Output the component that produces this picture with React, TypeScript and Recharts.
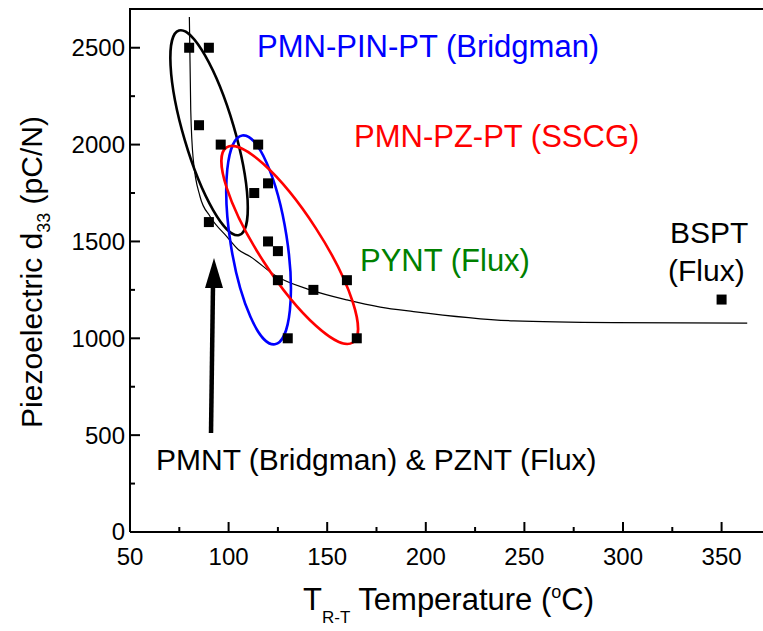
import React from 'react';
import { ComposedChart, Scatter, Line, XAxis, YAxis, ReferenceDot } from 'recharts';

const FONT = '"Liberation Sans", Arial, Helvetica, sans-serif';

// measured single crystals
const crystalT = [80, 90, 85, 96, 115, 120, 113, 90, 120, 125, 125, 160, 143, 130, 165, 350];
const crystalD33 = [2500, 2500, 2100, 2000, 2000, 1800, 1750, 1600, 1500, 1450, 1300, 1300, 1250, 1000, 1000, 1200];

// trend line
const fitT = [80.1, 80.8, 82.1, 85.5, 90.6, 99.1, 105, 110.9, 124.5, 141.4, 160, 176.9, 193.8, 244.6, 295.3, 363];
const fitD33 = [2659, 2180, 1921, 1732, 1629, 1525, 1457, 1422, 1319, 1250, 1198, 1161, 1138, 1090, 1081, 1078];

const xTicks = [50, 75, 100, 125, 150, 175, 200, 225, 250, 275, 300, 325, 350];
const xLabels = [50, 100, 150, 200, 250, 300, 350];
const yTicks = [0, 250, 500, 750, 1000, 1250, 1500, 1750, 2000, 2250, 2500];
const yLabels = [0, 500, 1000, 1500, 2000, 2500];

const points = crystalT.map((t, i) => ({ t, d33: crystalD33[i] }));
const fit = fitT.map((t, i) => ({ t, d33: fitD33[i] }));

// group outlines: centre in data units, semi-axes in px, tilt in degrees
const groups = [
  { t: 90.1, d33: 2061, a: 106.6, b: 25.4, tilt: 16.4, color: '#000000' },
  { t: 115.2, d33: 1508, a: 105.7, b: 28.2, tilt: 8.9, color: '#0000ff' },
  { t: 131, d33: 1482, a: 116.2, b: 31, tilt: 32.9, color: '#ff0000' },
];

const XTick = (props: any) => {
  const { x, y, payload } = props;
  const major = xLabels.includes(payload.value);
  return (
    <g>
      <path d={`M${x},${y}V${y - (major ? 10 : 5)}`} stroke="#000" strokeWidth={2} fill="none" />
      {major && (
        <text x={x} y={y + 33} textAnchor="middle" fontSize={24} fontFamily={FONT} fill="#000">
          {payload.value}
        </text>
      )}
    </g>
  );
};

const YTick = (props: any) => {
  const { x, y, payload } = props;
  const major = yLabels.includes(payload.value);
  return (
    <g>
      <path d={`M${x},${y}H${x + (major ? 10 : 5)}`} stroke="#000" strokeWidth={2} fill="none" />
      {major && (
        <text x={x - 5} y={y} dy="0.35em" textAnchor="end" fontSize={24} fontFamily={FONT} fill="#000">
          {payload.value}
        </text>
      )}
    </g>
  );
};

const square = (props: any) => (
  <rect x={props.cx - 5} y={props.cy - 5} width={10} height={10} fill="#000" />
);

// arrow pointing up at the PMNT/PZNT group, tip given in data units
const arrow = (p: any) => (
  <g>
    <path d={`M${p.cx - 1},${p.cy + 26}L${p.cx - 3},${p.cy + 175}`} stroke="#000" strokeWidth={4.5} fill="none" />
    <polygon points={`${p.cx},${p.cy} ${p.cx - 9},${p.cy + 30} ${p.cx + 9},${p.cy + 30}`} fill="#000" />
  </g>
);

export default function App() {
  return (
    <div style={{ position: 'relative', width: 763, height: 631, background: '#fff' }}>
      <style>{'body{margin:0;overflow:hidden}'}</style>
      <ComposedChart width={763} height={631} margin={{ top: 9, right: 0, bottom: 0, left: 0 }}>
        <XAxis
          dataKey="t"
          type="number"
          domain={[50, 371]}
          ticks={xTicks}
          interval={0}
          height={99}
          tickSize={0}
          tickMargin={0}
          tick={<XTick />}
          axisLine={{ stroke: '#000', strokeWidth: 2 }}
          tickLine={false}
          allowDataOverflow
        />
        <YAxis
          type="number"
          domain={[0, 2700]}
          ticks={yTicks}
          interval={0}
          width={130}
          tickSize={0}
          tickMargin={0}
          tick={<YTick />}
          axisLine={{ stroke: '#000', strokeWidth: 2 }}
          tickLine={false}
          allowDataOverflow
        />
        <Line
          data={fit}
          dataKey="d33"
          type="monotoneX"
          stroke="#000"
          strokeWidth={1.2}
          dot={false}
          activeDot={false}
          isAnimationActive={false}
        />
        {groups.map((g, i) => (
          <ReferenceDot
            key={i}
            x={g.t}
            y={g.d33}
            ifOverflow="visible"
            shape={(p: any) => (
              <ellipse
                cx={p.cx}
                cy={p.cy}
                rx={g.b}
                ry={g.a}
                transform={`rotate(${-g.tilt} ${p.cx} ${p.cy})`}
                fill="none"
                stroke={g.color}
                strokeWidth={2.6}
              />
            )}
          />
        ))}
        <Scatter data={points} dataKey="d33" shape={square} isAnimationActive={false} />
        <ReferenceDot x={92.6} y={1415} ifOverflow="visible" shape={arrow} />
      </ComposedChart>
      <svg
        width={763}
        height={631}
        style={{ position: 'absolute', left: 0, top: 0, pointerEvents: 'none' }}
        fontFamily={FONT}
      >
        <line x1={129} x2={763} y1={9} y2={9} stroke="#000" strokeWidth={2} />
        <text x={257} y={57} fontSize={31} fill="#0000ff">PMN-PIN-PT (Bridgman)</text>
        <text x={354} y={147} fontSize={31} fill="#ff0000">PMN-PZ-PT (SSCG)</text>
        <text x={360} y={271} fontSize={31} fill="#008000">PYNT (Flux)</text>
        <text x={670} y={243} fontSize={30} fill="#000">BSPT</text>
        <text x={668} y={281} fontSize={30} fill="#000">(Flux)</text>
        <text x={156} y={470} fontSize={30} fill="#000">PMNT (Bridgman) &amp; PZNT (Flux)</text>
        <text x={303} y={610} fontSize={31} fill="#000">
          T<tspan fontSize={17} dy={13}>R-T</tspan>
          <tspan fontSize={31} dy={-13}> Temperature (</tspan>
          <tspan fontSize={18} dy={-12}>o</tspan>
          <tspan fontSize={31} dy={12}>C)</tspan>
        </text>
        <text transform="translate(42 272) rotate(-90)" textAnchor="middle" fontSize={30} fill="#000">
          Piezoelectric d<tspan fontSize={18} dy={8}>33</tspan>
          <tspan fontSize={30} dy={-8}> (pC/N)</tspan>
        </text>
      </svg>
    </div>
  );
}
